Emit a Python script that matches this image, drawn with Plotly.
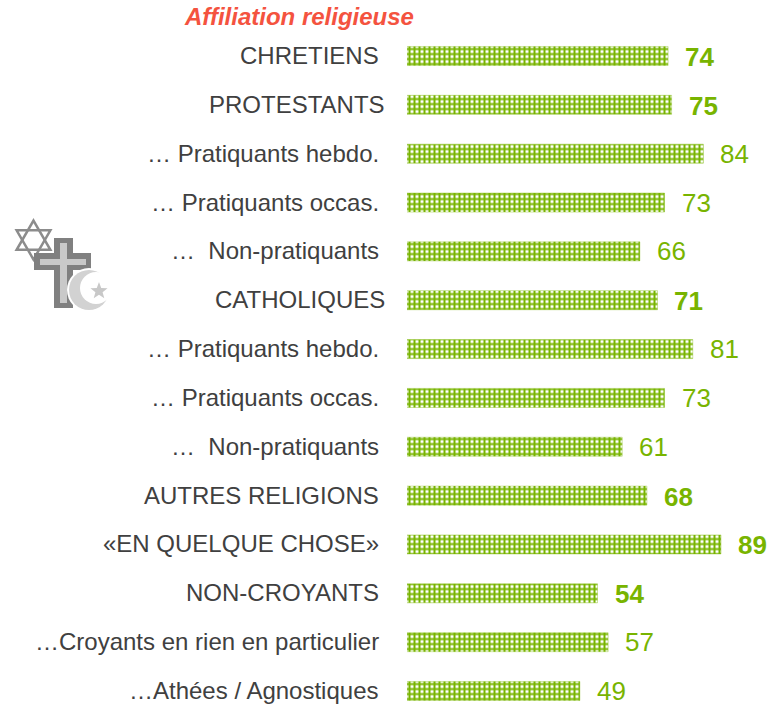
import math
import plotly.graph_objects as go

W, H = 767, 705

categories = ["CHRETIENS", "PROTESTANTS", "… Pratiquants hebdo.", "… Pratiquants occas.", "…  Non-pratiquants",
              "CATHOLIQUES", " … Pratiquants hebdo.", " … Pratiquants occas.", " …  Non-pratiquants",
              "AUTRES RELIGIONS", "«EN QUELQUE CHOSE»", "NON-CROYANTS",
              "…Croyants en rien en particulier", "…Athées / Agnostiques"]
values = [74, 75, 84, 73, 66, 71, 81, 73, 61, 68, 89, 54, 57, 49]
bold_rows = [True, True, False, False, False, True, False, False, False, True, True, True, False, False]
title_text = "Affiliation religieuse"

GREEN = "#78B400"
TEXT = "#404040"

def fx(px):
    return px / W

def fy(py):
    return 1 - py / H

ROW = 48.85
TOP = 56 - ROW / 2

fig = go.Figure(go.Bar(
    x=values, y=categories, orientation="h", width=0.39,
    marker=dict(color="white",
                line=dict(color="rgba(120,180,0,0.35)", width=1),
                pattern=dict(shape="+", fgcolor=GREEN, bgcolor="white", size=5, solidity=0.64, fillmode="replace")),
    hoverinfo="skip", showlegend=False))

annotations = []
for i, (c, v, b) in enumerate(zip(categories, values, bold_rows)):
    annotations.append(dict(xref="paper", yref="y", x=fx(386.5 if c in ("PROTESTANTS", "CATHOLIQUES") else 381), y=c,
                            text=c.strip(), showarrow=False, xanchor="right", yanchor="middle",
                            xshift=0, yshift=0.5, font=dict(size=24, color=TEXT), align="right"))
    annotations.append(dict(xref="x", yref="y", x=v, y=c, text=f"<b>{v}</b>" if b else str(v),
                            showarrow=False, xanchor="left", yanchor="middle", xshift=15, yshift=-1 if b else 0,
                            font=dict(size=26, color=GREEN)))
annotations.append(dict(xref="paper", yref="paper", x=fx(184), y=fy(16), text=f"<b><i>{title_text}</i></b>",
                        showarrow=False, xanchor="left", yanchor="middle", xshift=-2,
                        font=dict(size=24, color="#F4533F")))

def rect(x0, y0, x1, y1, color):
    return dict(type="rect", xref="paper", yref="paper", x0=fx(x0), x1=fx(x1), y0=fy(y0), y1=fy(y1),
                fillcolor=color, line=dict(width=0), layer="above")

def circle(cx, cy, r, color):
    return dict(type="circle", xref="paper", yref="paper", x0=fx(cx - r), x1=fx(cx + r), y0=fy(cy - r), y1=fy(cy + r),
                fillcolor=color, line=dict(width=0), layer="above")

def poly(points, fill, line_color=None, lw=0):
    d = "M" + "L".join(f"{fx(x):.5f},{fy(y):.5f}" for x, y in points) + "Z"
    return dict(type="path", xref="paper", yref="paper", path=d, fillcolor=fill,
                line=dict(color=line_color or fill, width=lw), layer="above")

def triangle(cx, cy, r, start):
    return [(cx + r * math.sin(math.radians(start + k * 120)), cy - r * math.cos(math.radians(start + k * 120)))
            for k in range(3)]

def star(cx, cy, r):
    pts = []
    for k in range(10):
        rr = r if k % 2 == 0 else r * 0.42
        a = math.radians(k * 36)
        pts.append((cx + rr * math.sin(a), cy - rr * math.cos(a)))
    return pts

shapes = [
    poly(triangle(33.5, 240, 19.5, 0), "rgba(0,0,0,0)", "#8C8C8C", 2.5),
    poly(triangle(33.5, 240, 19.5, 180), "rgba(0,0,0,0)", "#8C8C8C", 2.5),
    rect(54, 238, 73, 308, "#808080"),
    rect(34, 253, 91, 270, "#808080"),
    rect(60, 243, 67, 303, "#C9C9C9"),
    rect(40, 259, 86, 265, "#C9C9C9"),
    circle(89, 290, 22, "white"),
    circle(89, 290, 20, "#D2D2D2"),
    circle(96, 288, 16, "white"),
    poly(star(99, 291, 9), "#C8C8C8"),
]

fig.update_layout(
    width=W, height=H, autosize=False,
    margin=dict(l=0, r=0, t=0, b=0), paper_bgcolor="white", plot_bgcolor="white",
    bargap=0.6, showlegend=False, annotations=annotations, shapes=shapes,
    xaxis=dict(domain=[407 / W, 1], range=[0, (W - 407) / 3.528], visible=False, fixedrange=True),
    yaxis=dict(domain=[0, 1 - TOP / H], range=[13 + 14 / ROW, -0.5], type="category",
               categoryorder="array", categoryarray=categories, visible=False, fixedrange=True),
    font=dict(family="Liberation Sans, Arial, sans-serif"),
)
fig.write_html("out.html", config=dict(displayModeBar=False),
               post_script="document.body.style.margin='0';document.body.style.overflow='hidden';")
